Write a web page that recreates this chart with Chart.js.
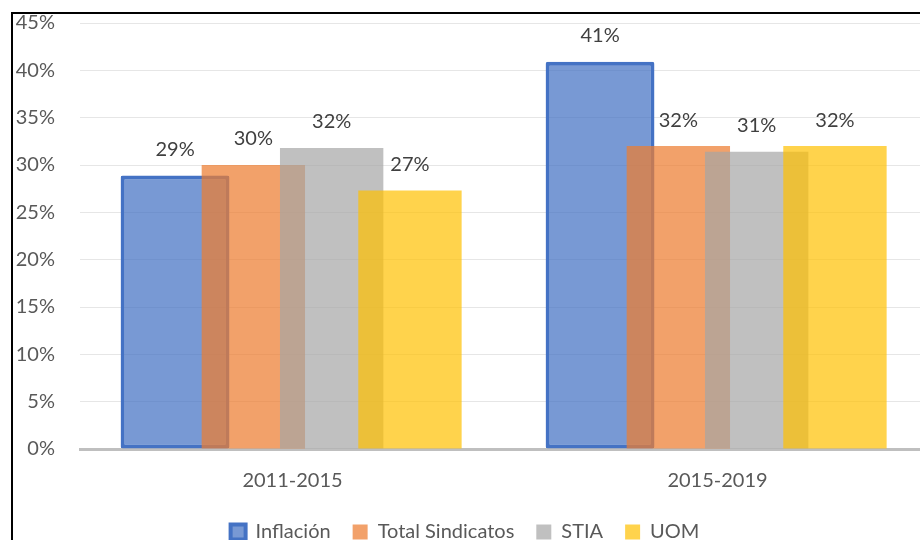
<!DOCTYPE html>
<html>
<head>
<meta charset="utf-8">
<script src="https://cdn.jsdelivr.net/npm/chart.js@4"></script>
<style>
  html, body { margin: 0; padding: 0; background: #fff; overflow: hidden; width: 920px; height: 540px; }
  #wrap { position: absolute; left: 0; top: 0; width: 940px; height: 560px; }
  #frame { position: absolute; left: 11px; top: 12px; width: 1000px; height: 600px;
           border-top: 2px solid #000; border-left: 2px solid #000; pointer-events: none; }
</style>
</head>
<body>
<div id="wrap"><canvas id="chart" width="940" height="560"></canvas></div>
<div id="frame"></div>
<script>
"use strict";

//////// DATA ////////
const categories = ['2011-2015', '2015-2019'];
const inflacion = [28.9, 40.9];
const total_sindicatos = [30.0, 32.0];
const stia = [31.8, 31.4];
const uom = [27.3, 32.0];

const y_max = 45;
const y_step = 5;

const FONT = 'Lato, "Liberation Sans", sans-serif';

// Draw datasets first->last (so later series sit on top), then the value labels
const draw_order_plugin = {
  id: 'draw_order',
  beforeDatasetsDraw(chart) {
    const ctx = chart.ctx;
    const area = chart.chartArea;
    ctx.save();
    ctx.beginPath();
    ctx.rect(area.left, area.top - 20, area.right - area.left, area.bottom - area.top + 40);
    ctx.clip();
    chart.getSortedVisibleDatasetMetas().forEach(meta => meta.controller.draw());
    ctx.restore();

    // value labels
    ctx.save();
    ctx.font = '20px ' + FONT;
    ctx.fillStyle = '#404040';
    ctx.textAlign = 'center';
    ctx.textBaseline = 'middle';
    chart.getSortedVisibleDatasetMetas().forEach(meta => {
      const values = chart.data.datasets[meta.index].data;
      meta.data.forEach((bar, i) => {
        ctx.fillText(Math.round(values[i]) + '%', bar.x, bar.y - 26);
      });
    });
    ctx.restore();
    return false;
  }
};

const chart_ctx = document.getElementById('chart').getContext('2d');
const chart_config = {
  type: 'bar',
  data: {
    labels: categories,
    datasets: [
      {
        label: 'Inflación',
        data: inflacion,
        backgroundColor: 'rgba(68,114,196,0.72)',
        borderColor: '#4472C4',
        borderWidth: 4,
        borderSkipped: false,
        borderRadius: 2,
        barPercentage: 1.39,
      },
      {
        label: 'Total Sindicatos',
        data: total_sindicatos,
        backgroundColor: 'rgba(237,125,49,0.72)',
        borderWidth: 0,
      },
      {
        label: 'STIA',
        data: stia,
        backgroundColor: 'rgba(165,165,165,0.7)',
        borderWidth: 0,
      },
      {
        label: 'UOM',
        data: uom,
        backgroundColor: 'rgba(255,192,0,0.7)',
        borderWidth: 0,
      },
    ],
  },
  options: {
    responsive: false,
    animation: false,
    datasets: {
      bar: {
        categoryPercentage: 0.737,
        barPercentage: 1.32,
      }
    },
    layout: {
      padding: { left: 0, right: 10, top: 23, bottom: 8 }
    },
    scales: {
      x: {
        grid: { display: false, drawTicks: false },
        border: { display: true, color: '#BFBFBF', width: 3 },
        ticks: { color: '#595959', font: { family: FONT, size: 20 }, padding: 20 },
        afterFit(scale) { scale.height = 51; },
      },
      y: {
        min: 0,
        max: y_max,
        ticks: {
          stepSize: y_step,
          color: '#595959',
          font: { family: FONT, size: 20 },
          padding: 25,
          callback: v => v + '%',
        },
        grid: { color: '#E6E6E6', lineWidth: 1, drawTicks: false },
        border: { display: false },
        afterFit(scale) {
          scale.width = 80;
          scale.paddingTop = 0;
          scale.paddingBottom = 0;
        },
      },
    },
    plugins: {
      legend: {
        position: 'bottom',
        labels: {
          color: '#595959',
          font: { family: FONT, size: 20 },
          boxWidth: 15,
          boxHeight: 15,
          padding: 22,
        }
      },
      tooltip: { enabled: false },
    }
  },
  plugins: [draw_order_plugin],
};

const bar_chart = new Chart(chart_ctx, chart_config);
</script>
</body>
</html>
